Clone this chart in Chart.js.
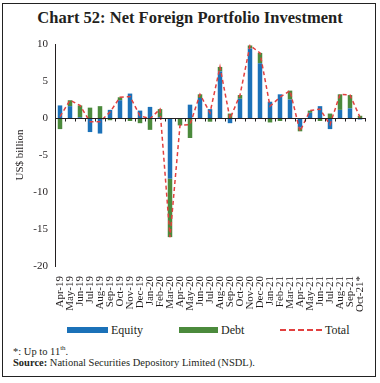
<!DOCTYPE html>
<html>
<head>
<meta charset="utf-8">
<script src="https://cdn.jsdelivr.net/npm/chart.js@4.4.0/dist/chart.umd.min.js"></script>
<style>
    body { margin: 0; width: 380px; height: 383px; background: #fff; position: relative; overflow: hidden;
           font-family: "Liberation Serif", serif; color: #231f20; }
    .frame { position: absolute; left: 2px; top: 3px; width: 372px; height: 372px; border: 1px solid #222; }
    .title { position: absolute; left: 0; top: 8px; width: 380px; text-align: center; font-weight: bold; font-size: 16.5px; }
    .chart-box { position: absolute; left: 0; top: 30px; width: 380px; height: 292px; }
    .legend { position: absolute; top: 322px; left: 0; width: 380px; height: 16px; font-size: 12px; line-height: 16px; }
    .legend span { position: absolute; }
    .sw { top: 5px; height: 6px; }
    .dash { top: 7px; height: 0; border-top: 2px dashed #e2403f; }
    .note { position: absolute; left: 13px; font-size: 10.5px; line-height: 13px; }
    .note sup { font-size: 7px; }
</style>
</head>
<body>
<div class="frame"></div>
<div class="title">Chart 52: Net Foreign Portfolio Investment</div>
<div class="chart-box"><canvas id="fpiChart"></canvas></div>
<div class="legend">
    <span class="sw" style="left:67px;width:41px;background:#1b71b8"></span>
    <span style="left:111px">Equity</span>
    <span class="sw" style="left:179px;width:39px;background:#4b8a3c"></span>
    <span style="left:221px">Debt</span>
    <span class="dash" style="left:280px;width:42px"></span>
    <span style="left:325px">Total</span>
</div>
<div class="note" style="top:342px">*: Up to 11<sup>th</sup>.</div>
<div class="note" style="top:356px"><b>Source:</b> National Securities Depository Limited (NSDL).</div>

<script>
// Monthly net FPI flows, US$ billion
const months = ['Apr-19', 'May-19', 'Jun-19', 'Jul-19', 'Aug-19', 'Sep-19', 'Oct-19', 'Nov-19', 'Dec-19',
    'Jan-20', 'Feb-20', 'Mar-20', 'Apr-20', 'May-20', 'Jun-20', 'Jul-20', 'Aug-20', 'Sep-20', 'Oct-20',
    'Nov-20', 'Dec-20', 'Jan-21', 'Feb-21', 'Mar-21', 'Apr-21', 'May-21', 'Jun-21', 'Jul-21', 'Aug-21',
    'Sep-21', 'Oct-21*'];
const equity = [1.7, 1.6, 0.1, -1.9, -2.1, 1.1, 2.4, 3.3, 1.0, 1.5, 0.1, -8.2, -0.1, 1.8, 2.7, 1.2,
    6.3, -0.7, 2.6, 9.4, 7.4, 2.2, 3.2, 2.5, -1.3, 0.7, 1.6, -1.5, 1.1, 1.3, -0.2];
const debt = [-1.5, 0.8, 1.6, 1.4, 1.6, -0.3, 0.4, -0.4, -0.7, -1.6, 1.1, -7.9, -0.9, -2.7, 0.5, -0.5,
    0.6, 0.6, 0.5, 0.4, 1.4, -0.6, -0.4, 1.2, -0.5, 0.3, -0.4, 0.6, 2.1, 1.8, 0.3];
const total = [0.2, 2.4, 1.7, -0.5, -0.5, 0.8, 2.8, 2.9, 0.3, -0.1, 1.2, -16.1, -1.0, -0.9, 3.2, 0.7,
    6.9, -0.1, 3.1, 9.8, 8.8, 1.6, 2.8, 3.7, -1.8, 1.0, 1.2, -0.9, 3.2, 3.1, 0.1];
const yTicks = [-20, -15, -10, -5, 0, 5, 10];

const inkColor = '#231f20';

// zero line with small ticks between the months
const zeroAxis = {
    id: 'zeroAxis',
    afterDatasetsDraw(chart) {
        const x = chart.scales.x;
        const y0 = chart.scales.y.getPixelForValue(0);
        const step = x.getPixelForValue(1) - x.getPixelForValue(0);
        const ctx = chart.ctx;
        ctx.save();
        ctx.strokeStyle = inkColor;
        ctx.lineWidth = 1;
        ctx.beginPath();
        ctx.moveTo(chart.chartArea.left, y0 + 0.5);
        ctx.lineTo(chart.chartArea.right, y0 + 0.5);
        for (let i = 0; i <= months.length; i++) {
            const px = Math.round(x.getPixelForValue(i) - step / 2) + 0.5;
            ctx.moveTo(px, y0);
            ctx.lineTo(px, y0 + 3.5);
        }
        ctx.stroke();
        ctx.restore();
    }
};

new Chart(document.getElementById('fpiChart'), {
    data: {
        labels: months,
        datasets: [{
            type: 'line',
            label: 'Total',
            data: total,
            borderColor: '#e2403f',
            borderWidth: 1.5,
            borderDash: [4, 3],
            pointRadius: 0,
            tension: 0,
            order: 0
        }, {
            type: 'bar',
            label: 'Equity',
            data: equity,
            backgroundColor: '#1b71b8',
            categoryPercentage: 1,
            barPercentage: 0.45,
            order: 1
        }, {
            type: 'bar',
            label: 'Debt',
            data: debt,
            backgroundColor: '#4b8a3c',
            categoryPercentage: 1,
            barPercentage: 0.45,
            order: 1
        }]
    },
    options: {
        responsive: true,
        maintainAspectRatio: false,
        animation: false,
        layout: { padding: { left: 10, right: 15, top: 14, bottom: 0 } },
        plugins: {
            legend: { display: false },
            tooltip: { enabled: false }
        },
        scales: {
            x: {
                stacked: true,
                grid: { display: false },
                border: { display: false },
                ticks: {
                    autoSkip: false,
                    maxRotation: 90,
                    minRotation: 90,
                    padding: 2,
                    color: inkColor,
                    font: { family: 'Liberation Serif', size: 11 }
                },
                afterFit(scale) { scale.height = 56; }
            },
            y: {
                stacked: true,
                min: -20,
                max: 10,
                grid: { display: false, drawTicks: false },
                border: { display: true, color: inkColor, width: 1 },
                ticks: {
                    padding: 7,
                    color: inkColor,
                    font: { family: 'Liberation Serif', size: 11 }
                },
                afterBuildTicks(scale) { scale.ticks = yTicks.map(v => ({ value: v })); },
                afterFit(scale) { scale.width = 45; },
                title: {
                    display: true,
                    text: 'US$ billion',
                    color: inkColor,
                    padding: { top: 4, bottom: 0 },
                    font: { family: 'Liberation Serif', size: 11 }
                }
            }
        }
    },
    plugins: [zeroAxis]
});
</script>
</body>
</html>
